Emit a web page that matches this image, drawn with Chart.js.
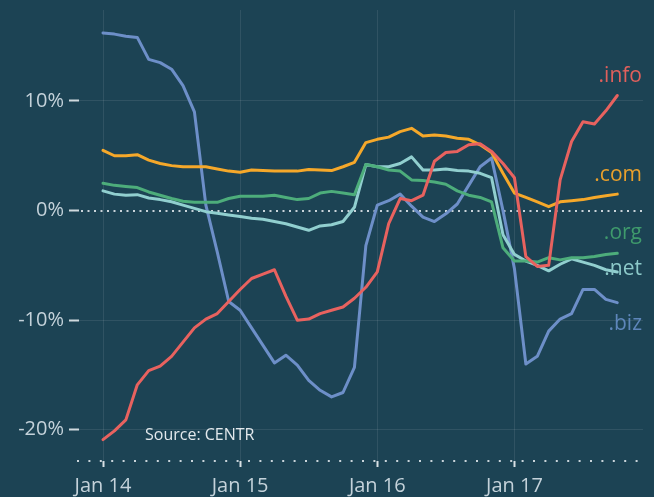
<!DOCTYPE html>
<html><head><meta charset="utf-8">
<script src="https://cdn.jsdelivr.net/npm/chart.js@4"></script>
<style>
html,body{margin:0;padding:0;background:#1c4354;}
#wrap{width:654px;height:497px;position:relative;background:#1c4354;}
</style></head><body>
<div id="wrap"><canvas id="c" width="654" height="497"></canvas></div>
<script>
const months = ['2014-01','2014-02','2014-03','2014-04','2014-05','2014-06','2014-07','2014-08','2014-09','2014-10','2014-11','2014-12',
'2015-01','2015-02','2015-03','2015-04','2015-05','2015-06','2015-07','2015-08','2015-09','2015-10','2015-11','2015-12',
'2016-01','2016-02','2016-03','2016-04','2016-05','2016-06','2016-07','2016-08','2016-09','2016-10','2016-11','2016-12',
'2017-01','2017-02','2017-03','2017-04','2017-05','2017-06','2017-07','2017-08','2017-09','2017-10'];

const info = [-20.9,-20.1,-19.1,-15.9,-14.6,-14.2,-13.3,-12.0,-10.7,-9.9,-9.4,-8.3,-7.2,-6.2,-5.8,-5.4,-7.8,-10.0,-9.9,-9.4,-9.1,-8.8,-8.0,-7.0,-5.6,-1.2,1.1,0.9,1.4,4.5,5.3,5.4,6.0,6.1,5.4,4.3,3.0,-4.2,-5.1,-5.0,2.8,6.3,8.1,7.9,9.1,10.5];
const com  = [5.5,5.0,5.0,5.1,4.6,4.3,4.1,4.0,4.0,4.0,3.8,3.6,3.5,3.7,3.65,3.6,3.6,3.6,3.75,3.7,3.65,4.0,4.4,6.2,6.5,6.7,7.2,7.5,6.8,6.9,6.8,6.6,6.5,6.0,5.3,3.4,1.6,1.2,0.8,0.35,0.8,0.9,1.0,1.2,1.35,1.5];
const org  = [2.5,2.3,2.2,2.1,1.7,1.4,1.1,0.85,0.75,0.75,0.75,1.1,1.3,1.3,1.3,1.4,1.2,1.0,1.1,1.6,1.75,1.6,1.45,4.2,4.0,3.7,3.6,2.8,2.75,2.6,2.4,1.8,1.4,1.2,0.8,-3.4,-4.6,-4.6,-4.7,-4.3,-4.5,-4.3,-4.3,-4.2,-4.0,-3.9];
const net  = [1.8,1.5,1.4,1.45,1.15,1.0,0.8,0.5,0.2,-0.1,-0.25,-0.4,-0.55,-0.7,-0.8,-1.0,-1.2,-1.5,-1.8,-1.4,-1.3,-1.0,0.3,4.2,4.0,4.0,4.3,4.9,3.7,3.7,3.8,3.65,3.6,3.4,3.0,-2.2,-4.0,-4.6,-5.0,-5.5,-4.9,-4.4,-4.7,-5.0,-5.4,-5.6];
const biz  = [16.2,16.1,15.9,15.8,13.8,13.5,12.9,11.4,9.0,0.5,-3.8,-8.3,-9.1,-10.7,-12.3,-13.9,-13.2,-14.1,-15.5,-16.4,-17.0,-16.6,-14.3,-3.2,0.5,0.9,1.5,0.4,-0.6,-1.0,-0.3,0.6,2.3,4.0,4.8,0.0,-5.3,-14.0,-13.3,-11.0,-9.9,-9.4,-7.2,-7.2,-8.1,-8.4];

const seriesNames = ['.info','.com','.org','.net','.biz'];
const xTickMonths = ['2014-01','2015-01','2016-01','2017-01'];
const xTickLabels = ['Jan 14','Jan 15','Jan 16','Jan 17'];
const yTickValues = [-20,-10,0,10];
const yTickLabels = ['-20%','-10%','0%','10%'];
const sourceText = 'Source: CENTR';

const seriesData = [info, com, org, net, biz];
const lineColors = ['#e8625f','#f5a82a','#4dad7b','#91cfcf','#6d8fc8'];
const labelColors = ['#e0605c','#e9a02c','#3f9a6c','#8cc9c9','#5e86ba'];
const labelAnchors = [12.25, 3.25, -2.05, -5.35, -10.35];

const FONT = "'Open Sans', 'Noto Sans', sans-serif";
const tickColor = '#c4d2da';
const gridColor = 'rgba(255,255,255,0.09)';

const toPoints = arr => arr.map((v, i) => ({x: i, y: v}));
const xTickIdx = xTickMonths.map(m => months.indexOf(m));

const extras = {
  id: 'extras',
  beforeDatasetsDraw(chart) {
    const {ctx, chartArea: a, scales: {y}} = chart;
    ctx.save();
    ctx.strokeStyle = '#c9d4da';
    ctx.lineWidth = 2;
    ctx.setLineDash([2, 4.5]);
    const y0 = Math.round(y.getPixelForValue(0));
    ctx.beginPath(); ctx.moveTo(a.left + 2, y0); ctx.lineTo(a.right, y0); ctx.stroke();
    ctx.setLineDash([2, 9.4]);
    const yb = Math.round(a.bottom);
    ctx.beginPath(); ctx.moveTo(a.left - 2, yb); ctx.lineTo(a.right, yb); ctx.stroke();
    ctx.restore();
  },
  afterDatasetsDraw(chart) {
    const {ctx, chartArea: a, scales: {y}} = chart;
    ctx.save();
    ctx.font = "21px " + FONT;
    ctx.textAlign = 'right';
    ctx.textBaseline = 'middle';
    seriesNames.forEach((n, i) => {
      ctx.fillStyle = labelColors[i];
      ctx.fillText(n, a.right - 1, y.getPixelForValue(labelAnchors[i]));
    });
    ctx.font = "16px " + FONT;
    ctx.textAlign = 'left';
    ctx.fillStyle = '#e2e8ec';
    ctx.fillText(sourceText, 145, 435);
    ctx.restore();
  }
};

new Chart(document.getElementById('c'), {
  type: 'line',
  data: {
    datasets: seriesData.map((d, i) => ({
      label: seriesNames[i],
      data: toPoints(d),
      borderColor: lineColors[i],
      borderWidth: 3,
      pointRadius: 0,
      tension: 0,
      borderJoinStyle: 'round',
      borderCapStyle: 'round',
      fill: false
    }))
  },
  options: {
    responsive: false,
    devicePixelRatio: 1,
    animation: false,
    layout: {padding: {left: 0, top: 10, right: 11, bottom: 0}},
    plugins: {legend: {display: false}, tooltip: {enabled: false}},
    scales: {
      x: {
        type: 'linear',
        min: -2.1,
        max: 47.25,
        afterFit: s => { s.height = 36; s.paddingLeft = 0; s.paddingRight = 0; },
        afterBuildTicks: s => { s.ticks = xTickIdx.map(v => ({value: v})); },
        border: {display: false},
        grid: {color: gridColor, lineWidth: 1, tickLength: 6, tickColor: '#d8e0e4', tickWidth: 2},
        ticks: {
          color: tickColor, font: {family: FONT, size: 20}, padding: 7, maxRotation: 0,
          callback: v => xTickLabels[xTickIdx.indexOf(v)]
        }
      },
      y: {
        min: -22.85,
        max: 18.3,
        afterFit: s => { s.width = 79; s.paddingTop = 0; s.paddingBottom = 0; },
        afterBuildTicks: s => { s.ticks = yTickValues.map(v => ({value: v})); },
        border: {display: false},
        grid: {
          color: c => (c.tick && c.tick.value === 0) ? 'rgba(0,0,0,0)' : gridColor,
          lineWidth: 1, tickLength: 10, tickColor: '#d0dade', tickWidth: 2
        },
        ticks: {
          color: tickColor, font: {family: FONT, size: 20}, padding: 5,
          callback: v => yTickLabels[yTickValues.indexOf(v)]
        }
      }
    }
  },
  plugins: [extras]
});
</script>
</body></html>
